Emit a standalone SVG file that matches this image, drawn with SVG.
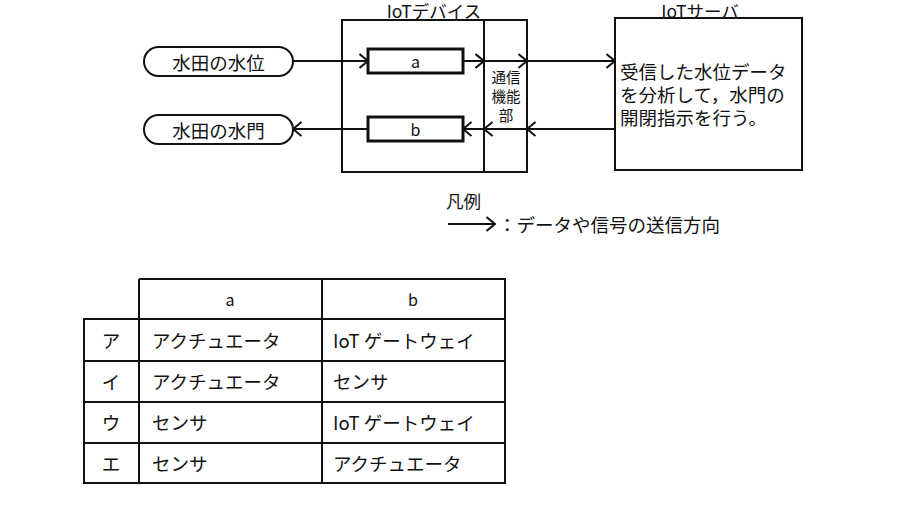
<svg xmlns="http://www.w3.org/2000/svg" width="900" height="524" viewBox="0 0 900 524">
  <defs>
    <marker id="chev" viewBox="0 0 10 16" refX="9.5" refY="8" markerWidth="10" markerHeight="16" markerUnits="userSpaceOnUse" orient="auto">
      <path d="M1,1 L9.5,8 L1,15" fill="none" stroke="#111" stroke-width="2"/>
    </marker>
    <style>
      text { font-family: "Noto Sans CJK JP", "Noto Sans", sans-serif; fill: #111; }
      .box { fill: #fff; stroke: #111; stroke-width: 2; }
      .thick { fill: #fff; stroke: #111; stroke-width: 3; }
      .wire { fill: none; stroke: #111; stroke-width: 2; marker-end: url(#chev); }
      .grid { fill: none; stroke: #111; stroke-width: 2; }
      .lbl { font-size: 18.5px; text-anchor: middle; dominant-baseline: central; }
      .ttl { font-size: 17.5px; text-anchor: middle; dominant-baseline: central; }
      .cell { font-size: 18.5px; dominant-baseline: central; }
      .comm { font-size: 14.5px; text-anchor: middle; }
      .srv { font-size: 18.5px; }
    </style>
  </defs>
  <rect width="900" height="524" fill="#fff"/>

  <!-- IoT device -->
  <g id="iot-device">
    <rect class="box" x="342" y="20" width="185" height="152"/>
    <line class="grid" x1="484" y1="20" x2="484" y2="172"/>
    <text x="434" y="10" class="ttl">IoTデバイス</text>
    <text class="comm"><tspan x="506" y="83">通信</tspan><tspan x="506" y="102">機能</tspan><tspan x="506" y="121">部</tspan></text>
  </g>

  <g id="box-a">
    <rect class="thick" x="368" y="49" width="95" height="24"/>
    <text x="415.5" y="61" font-size="16" text-anchor="middle" dominant-baseline="central">a</text>
  </g>
  <g id="box-b">
    <rect class="thick" x="368" y="117" width="95" height="24"/>
    <text x="415.5" y="129" font-size="16" text-anchor="middle" dominant-baseline="central">b</text>
  </g>

  <!-- field side -->
  <g id="water-level">
    <rect class="box" x="144" y="47" width="149" height="29" rx="14.5"/>
    <text x="218.5" y="61.5" class="lbl">水田の水位</text>
  </g>
  <g id="water-gate">
    <rect class="box" x="144" y="115" width="149" height="29" rx="14.5"/>
    <text x="218.5" y="129.5" class="lbl">水田の水門</text>
  </g>

  <!-- IoT server -->
  <g id="iot-server">
    <rect class="box" x="615" y="18" width="187" height="152"/>
    <text x="700" y="10" class="ttl">IoTサーバ</text>
    <text class="srv"><tspan x="620" y="79">受信した水位データ</tspan><tspan x="620" y="102">を分析して，水門の</tspan><tspan x="620" y="125">開閉指示を行う。</tspan></text>
  </g>

  <!-- connectors -->
  <g id="connectors">
    <line class="wire" x1="293" y1="61" x2="368" y2="61"/>
    <line class="wire" x1="463" y1="61" x2="484" y2="61"/>
    <line class="wire" x1="484" y1="61" x2="527" y2="61"/>
    <line class="wire" x1="527" y1="61" x2="615" y2="61"/>
    <line class="wire" x1="615" y1="129" x2="527" y2="129"/>
    <line class="wire" x1="527" y1="129" x2="484" y2="129"/>
    <line class="wire" x1="484" y1="129" x2="463" y2="129"/>
    <line class="wire" x1="368" y1="129" x2="293" y2="129"/>
  </g>

  <!-- legend -->
  <g id="legend">
    <text x="446" y="200" font-size="17.5" dominant-baseline="central">凡例</text>
    <line class="wire" x1="448" y1="224" x2="495" y2="224"/>
    <text x="498" y="224" class="cell">：データや信号の送信方向</text>
  </g>

  <!-- answer table -->
  <g id="answer-table">
    <path class="grid" d="M139,279 H505 V483 H84 V319 H505 M84,361 H505 M84,402 H505 M84,443 H505 M139,279 V483 M322,279 V483"/>
    <text x="230" y="299" font-size="16" text-anchor="middle" dominant-baseline="central">a</text>
    <text x="413" y="299" font-size="16" text-anchor="middle" dominant-baseline="central">b</text>

    <text x="111" y="340" class="lbl">ア</text>
    <text x="152" y="340" class="cell">アクチュエータ</text>
    <text x="333" y="340" class="cell">IoT ゲートウェイ</text>

    <text x="111" y="381" class="lbl">イ</text>
    <text x="152" y="381" class="cell">アクチュエータ</text>
    <text x="333" y="381" class="cell">センサ</text>

    <text x="111" y="422" class="lbl">ウ</text>
    <text x="152" y="422" class="cell">センサ</text>
    <text x="333" y="422" class="cell">IoT ゲートウェイ</text>

    <text x="111" y="463" class="lbl">エ</text>
    <text x="152" y="463" class="cell">センサ</text>
    <text x="333" y="463" class="cell">アクチュエータ</text>
  </g>
</svg>
